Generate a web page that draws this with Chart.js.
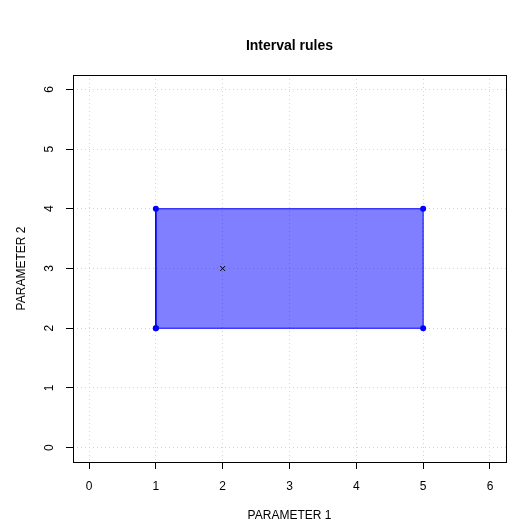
<!DOCTYPE html>
<html>
<head>
<meta charset="utf-8">
<script src="https://cdn.jsdelivr.net/npm/chart.js@4/dist/chart.umd.min.js"></script>
<style>
  html, body { margin: 0; padding: 0; background: #fff; }
  #wrap { width: 525px; height: 530px; }
</style>
</head>
<body>
<div id="wrap"><canvas id="chart" width="525" height="530"></canvas></div>
<script>
// corners of the interval rule (closed polygon)
const ruleX = [1, 5, 5, 1, 1]
const ruleY = [2, 2, 4, 4, 2]
// the point marked with a cross
const pointX = [2]
const pointY = [3]
// axis ticks
const xTicks = [0, 1, 2, 3, 4, 5, 6]
const yTicks = [0, 1, 2, 3, 4, 5, 6]

const titleText = "Interval rules"
const xTitle = "PARAMETER 1"
const yTitle = "PARAMETER 2"

const FONT = '"Liberation Sans", Arial, Helvetica, sans-serif'

const toPoints = (xs, ys) => xs.map((x, i) => ({ x: x, y: ys[i] }))

/* Décorations façon R : boîte, titres, étiquettes de l'axe Y tournées */
const rDecor = {
  id: "rDecor",
  afterDraw(chart) {
    const ctx = chart.ctx
    const a = chart.chartArea
    const ys = chart.scales.y
    ctx.save()
    // box
    ctx.strokeStyle = "#000"
    ctx.lineWidth = 1
    ctx.strokeRect(Math.round(a.left) + 0.5, Math.round(a.top) + 0.5,
      Math.round(a.right - a.left), Math.round(a.bottom - a.top))

    // title
    ctx.fillStyle = "#000"
    ctx.textAlign = "center"
    ctx.textBaseline = "middle"
    ctx.font = "bold 14px " + FONT
    ctx.fillText(titleText, (a.left + a.right) / 2, 46)

    // x axis title
    ctx.font = "12px " + FONT
    ctx.fillText(xTitle, (a.left + a.right) / 2, 516)

    // y tick labels, rotated
    for (const v of yTicks) {
      ctx.save()
      ctx.translate(50, ys.getPixelForValue(v))
      ctx.rotate(-Math.PI / 2)
      ctx.fillText(String(v), 0, 0)
      ctx.restore()
    }

    // y axis title
    ctx.save()
    ctx.translate(22, (a.top + a.bottom) / 2)
    ctx.rotate(-Math.PI / 2)
    ctx.fillText(yTitle, 0, 0)
    ctx.restore()
    ctx.restore()
  },
}

const gridOpts = {
  color: "#d3d3d3",
  lineWidth: 1,
  drawTicks: true,
  tickLength: 7,
  tickColor: "#000",
  tickWidth: 1,
  tickBorderDash: [],
}

const config = {
  type: "scatter",
  data: {
    datasets: [
      {
        label: "point",
        data: toPoints(pointX, pointY),
        order: 0,
        pointStyle: "crossRot",
        pointRadius: 3.5,
        borderColor: "#000",
        backgroundColor: "#000",
        pointBorderWidth: 1,
      },
      {
        label: "rule",
        data: toPoints(ruleX, ruleY),
        order: 1,
        showLine: true,
        fill: "shape",
        backgroundColor: "rgba(0, 0, 255, 0.5)",
        borderColor: "#0000ff",
        borderWidth: 1,
        pointRadius: 3,
        pointBackgroundColor: "#0000ff",
        pointBorderColor: "#0000ff",
        pointBorderWidth: 0,
        tension: 0,
      },
    ],
  },
  options: {
    responsive: false,
    animation: false,
    events: [],
    layout: { padding: { left: 0, top: 75, right: 19, bottom: 0 } },
    plugins: {
      legend: { display: false },
      title: { display: false },
      tooltip: { enabled: false },
    },
    scales: {
      x: {
        type: "linear",
        min: -0.24,
        max: 6.24,
        afterBuildTicks: (s) => { s.ticks = xTicks.map((v) => ({ value: v })) },
        afterFit: (s) => { s.height = 68 },
        grid: gridOpts,
        border: { display: false, dash: [1, 3] },
        ticks: {
          color: "#000",
          padding: 10,
          maxRotation: 0,
          font: { family: FONT, size: 12 },
        },
      },
      y: {
        type: "linear",
        min: -0.24,
        max: 6.24,
        afterBuildTicks: (s) => { s.ticks = yTicks.map((v) => ({ value: v })) },
        afterFit: (s) => { s.width = 73 },
        grid: gridOpts,
        border: { display: false, dash: [1, 3] },
        ticks: {
          color: "rgba(0,0,0,0)",
          font: { family: FONT, size: 12 },
        },
      },
    },
  },
  plugins: [rDecor],
}

new Chart(document.querySelector("#chart"), config)
</script>
</body>
</html>
